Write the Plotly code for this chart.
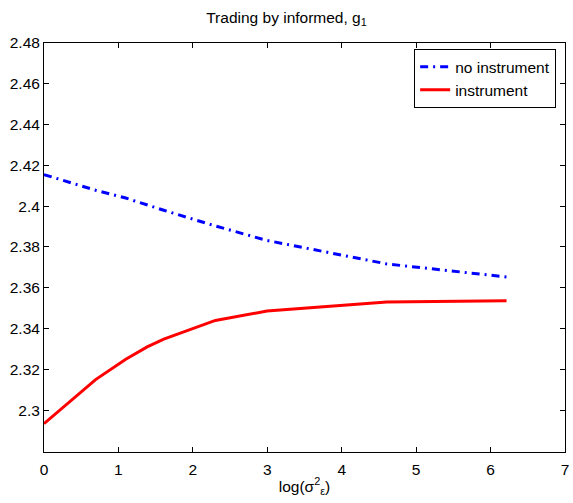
import plotly.graph_objects as go

x_vals = [0.0, 0.6931, 1.0986, 1.3863, 1.6094, 2.3026, 2.9957, 4.6052, 6.2146]
no_instrument = [2.4155, 2.4078, 2.4040, 2.4006, 2.3980, 2.3903, 2.3832, 2.3717, 2.3653]
instrument = [2.2934, 2.3150, 2.3250, 2.3310, 2.3348, 2.3440, 2.3486, 2.3530, 2.3537]

y_ticks = [2.3, 2.32, 2.34, 2.36, 2.38, 2.4, 2.42, 2.44, 2.46, 2.48]
y_tick_text = ["2.3", "2.32", "2.34", "2.36", "2.38", "2.4", "2.42", "2.44", "2.46", "2.48"]
x_ticks = [0, 1, 2, 3, 4, 5, 6, 7]

fig = go.Figure()
fig.add_trace(go.Scatter(x=x_vals, y=no_instrument, mode="lines", name="no instrument",
                         line=dict(color="#0000ff", width=3, dash="8px,5px,2px,5px")))
fig.add_trace(go.Scatter(x=x_vals, y=instrument, mode="lines", name="instrument",
                         line=dict(color="#ff0000", width=3)))

font_family = "Liberation Sans, Arial, Helvetica, sans-serif"
fig.update_layout(
    width=573, height=503,
    margin=dict(l=44, r=4, t=43, b=51),
    paper_bgcolor="white", plot_bgcolor="white",
    font=dict(family=font_family, size=15.5, color="black"),
    title=dict(text="Trading by informed, g<sub>1</sub>", x=0.5, xanchor="center",
               y=0.966, yanchor="middle", font=dict(size=15.5)),
    showlegend=True,
    legend=dict(x=0.983, y=0.985, xanchor="right", yanchor="top",
                bordercolor="black", borderwidth=1, bgcolor="white",
                font=dict(size=15.5), tracegroupgap=0),
)
fig.update_xaxes(range=[0, 7], tickvals=x_ticks, ticks="inside", ticklen=5,
                 showline=True, linecolor="black", linewidth=1, mirror="allticks",
                 showgrid=False, zeroline=False, tickcolor="black",
                 tickfont=dict(size=15.5), ticklabeloverflow="allow", ticklabelstandoff=3,
                 title=dict(text="log(σ<sup>2</sup><sub>ε</sub>)", standoff=4, font=dict(size=15.5)))
fig.update_yaxes(range=[2.2795, 2.48], tickvals=y_ticks, ticktext=y_tick_text,
                 ticks="inside", ticklen=5, tickfont=dict(size=15.5), ticklabeloverflow="allow",
                 showline=True, linecolor="black", linewidth=1, mirror="allticks",
                 showgrid=False, zeroline=False, tickcolor="black")

fig.write_html("out.html")
